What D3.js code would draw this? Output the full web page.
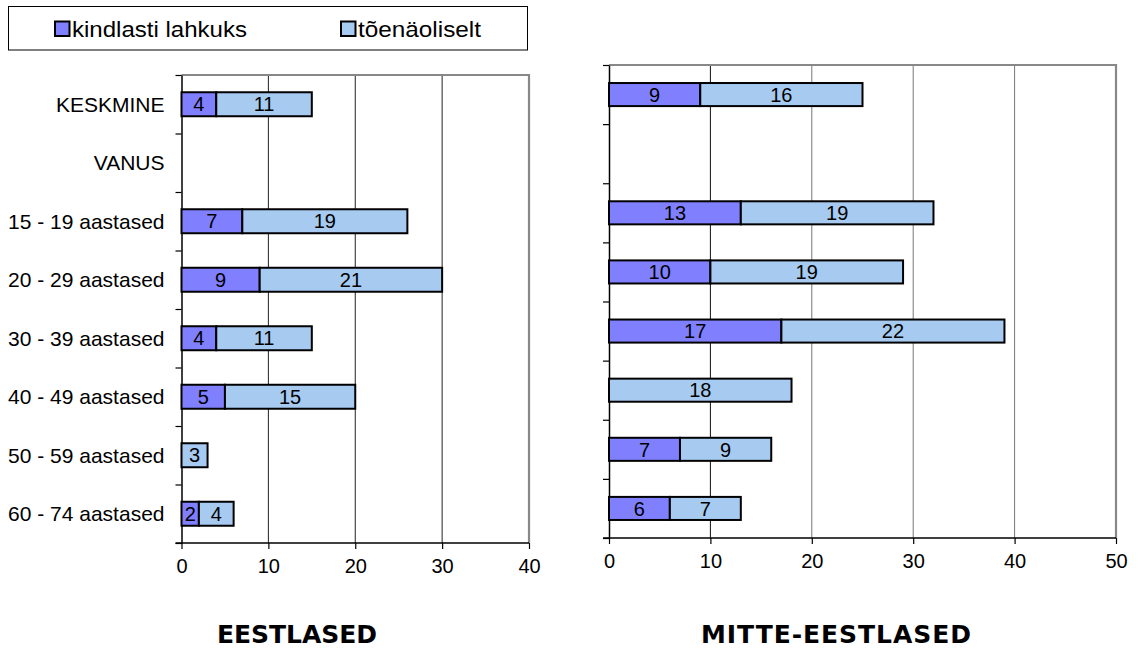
<!DOCTYPE html>
<html><head><meta charset="utf-8">
<script src="https://cdn.jsdelivr.net/npm/d3@7"></script>
<style>body{margin:0;background:#fff}svg{display:block}</style>
</head><body>
<svg id="c" width="1138" height="651"></svg>
<script>
const categories = ["KESKMINE","VANUS","15 - 19 aastased","20 - 29 aastased","30 - 39 aastased","40 - 49 aastased","50 - 59 aastased","60 - 74 aastased"];
const seriesNames = ["kindlasti lahkuks","tõenäoliselt"];
const estSure = [4, null, 7, 9, 4, 5, 0, 2];
const estLikely = [11, null, 19, 21, 11, 15, 3, 4];
const nonSure = [9, null, 13, 10, 17, 0, 7, 6];
const nonLikely = [16, null, 19, 19, 22, 18, 9, 7];
const estTicks = [0,10,20,30,40];
const nonTicks = [0,10,20,30,40,50];
const titles = ["EESTLASED","MITTE-EESTLASED"];
const colors = ["#8080FF","#A6CAF0"];

const svg = d3.select("#c");
const FONT = "'Liberation Sans', Arial, sans-serif";

function panel(o){
  const x = d3.scaleLinear().domain([0, o.ticks[o.ticks.length-1]]).range([o.x0, o.x1]);
  const y = d3.scaleBand().domain(categories).range([o.y0, o.y1]).paddingInner(o.pad).paddingOuter(o.pad/2);
  const yb = d3.scaleLinear().domain([0, categories.length]).range([o.y0, o.y1]);
  const g = svg.append("g");
  g.selectAll(".grid").data(o.ticks.slice(1, -1)).join("line")
    .attr("x1", d=>x(d)).attr("x2", d=>x(d)).attr("y1", o.y0).attr("y2", o.y1)
    .attr("stroke", (d,i)=>o.gridColor(i)).attr("stroke-width", 1);
  g.append("path").attr("d", `M${o.x0},${o.y0}H${o.x1}V${o.y1}`).attr("fill","none").attr("stroke","#888").attr("stroke-width",2.2);
  const ya = d3.axisLeft(yb).tickValues(d3.range(0, categories.length+1)).tickSize(6).tickFormat("").tickSizeOuter(0);
  const yag = g.append("g").attr("transform",`translate(${o.x0},0)`).call(ya);
  yag.select(".domain").attr("stroke","#000").attr("stroke-width",1.5);
  yag.selectAll(".tick line").attr("stroke","#000").attr("stroke-width",1.2);
  const xa = d3.axisBottom(x).tickValues(o.ticks).tickSize(6).tickSizeOuter(0).tickPadding(10);
  const xag = g.append("g").attr("transform",`translate(0,${o.y1})`).call(xa);
  xag.select(".domain").attr("d", `M${o.x0-6},0H${o.x1}`).attr("stroke","#000").attr("stroke-width",1.5);
  xag.selectAll(".tick line").attr("stroke","#000").attr("stroke-width",1.2);
  xag.selectAll(".tick text").attr("font-family",FONT).attr("font-size",20).attr("fill","#000");
  const rows = categories.map((c,i)=>({c, a:o.sure[i], b:o.likely[i]})).filter(r=>r.b!=null);
  const segs = [];
  rows.forEach(r=>{
    if (r.a>0) segs.push({c:r.c, s:0, e:r.a, v:r.a, k:0});
    segs.push({c:r.c, s:r.a||0, e:(r.a||0)+r.b, v:r.b, k:1});
  });
  g.selectAll(".bar").data(segs).join("rect")
    .attr("x", d=>x(d.s)).attr("width", d=>x(d.e)-x(d.s))
    .attr("y", d=>y(d.c)).attr("height", y.bandwidth())
    .attr("fill", d=>colors[d.k]).attr("stroke","#000").attr("stroke-width",2);
  g.selectAll(".lab").data(segs).join("text")
    .attr("x", d=>(x(d.s)+x(d.e))/2).attr("y", d=>y(d.c)+y.bandwidth()/2)
    .attr("dy","0.36em").attr("text-anchor","middle")
    .attr("font-family",FONT).attr("font-size",20).attr("fill","#000").text(d=>d.v);
  if (o.labels){
    g.selectAll(".cat").data(categories).join("text")
      .attr("x", o.x0-17).attr("y", d=>y(d)+y.bandwidth()/2).attr("dy","0.36em")
      .attr("text-anchor","end").attr("font-family",FONT).attr("font-size",21).attr("fill","#000").text(d=>d);
  }
  svg.append("text").attr("x", o.tx).attr("y", 643).attr("text-anchor","middle")
    .attr("font-family","'DejaVu Sans', Verdana, sans-serif").attr("font-weight","bold").attr("font-size",25)
    .attr("fill","#000").attr("textLength", o.tw).attr("lengthAdjust","spacing").text(o.title);
}

panel({x0:181.5, x1:529, y0:75, y1:543, pad:0.59, ticks:estTicks, sure:estSure, likely:estLikely,
  labels:true, title:titles[0], tx:297, tw:160, gridColor:()=>"#222"});
panel({x0:609, x1:1116, y0:65, y1:538, pad:0.61, ticks:nonTicks, sure:nonSure, likely:nonLikely,
  labels:false, title:titles[1], tx:836, tw:270, gridColor:i=> i===0 ? "#111" : "#777"});

const lg = svg.append("g");
lg.append("rect").attr("x",8.5).attr("y",6.5).attr("width",519).attr("height",43.5).attr("fill","#fff").attr("stroke","#000").attr("stroke-width",1);
const legX = [55, 341];
const legW = [175, 123];
seriesNames.forEach((n,i)=>{
  lg.append("rect").attr("x",legX[i]).attr("y",21.5).attr("width",14.5).attr("height",14.5)
    .attr("fill",colors[i]).attr("stroke","#000").attr("stroke-width",2);
  lg.append("text").attr("x",legX[i]+17).attr("y",29).attr("dy","0.36em")
    .attr("font-family",FONT).attr("font-size",22).attr("fill","#000")
    .attr("textLength",legW[i]).attr("lengthAdjust","spacingAndGlyphs").text(n);
});
</script>
</body></html>
